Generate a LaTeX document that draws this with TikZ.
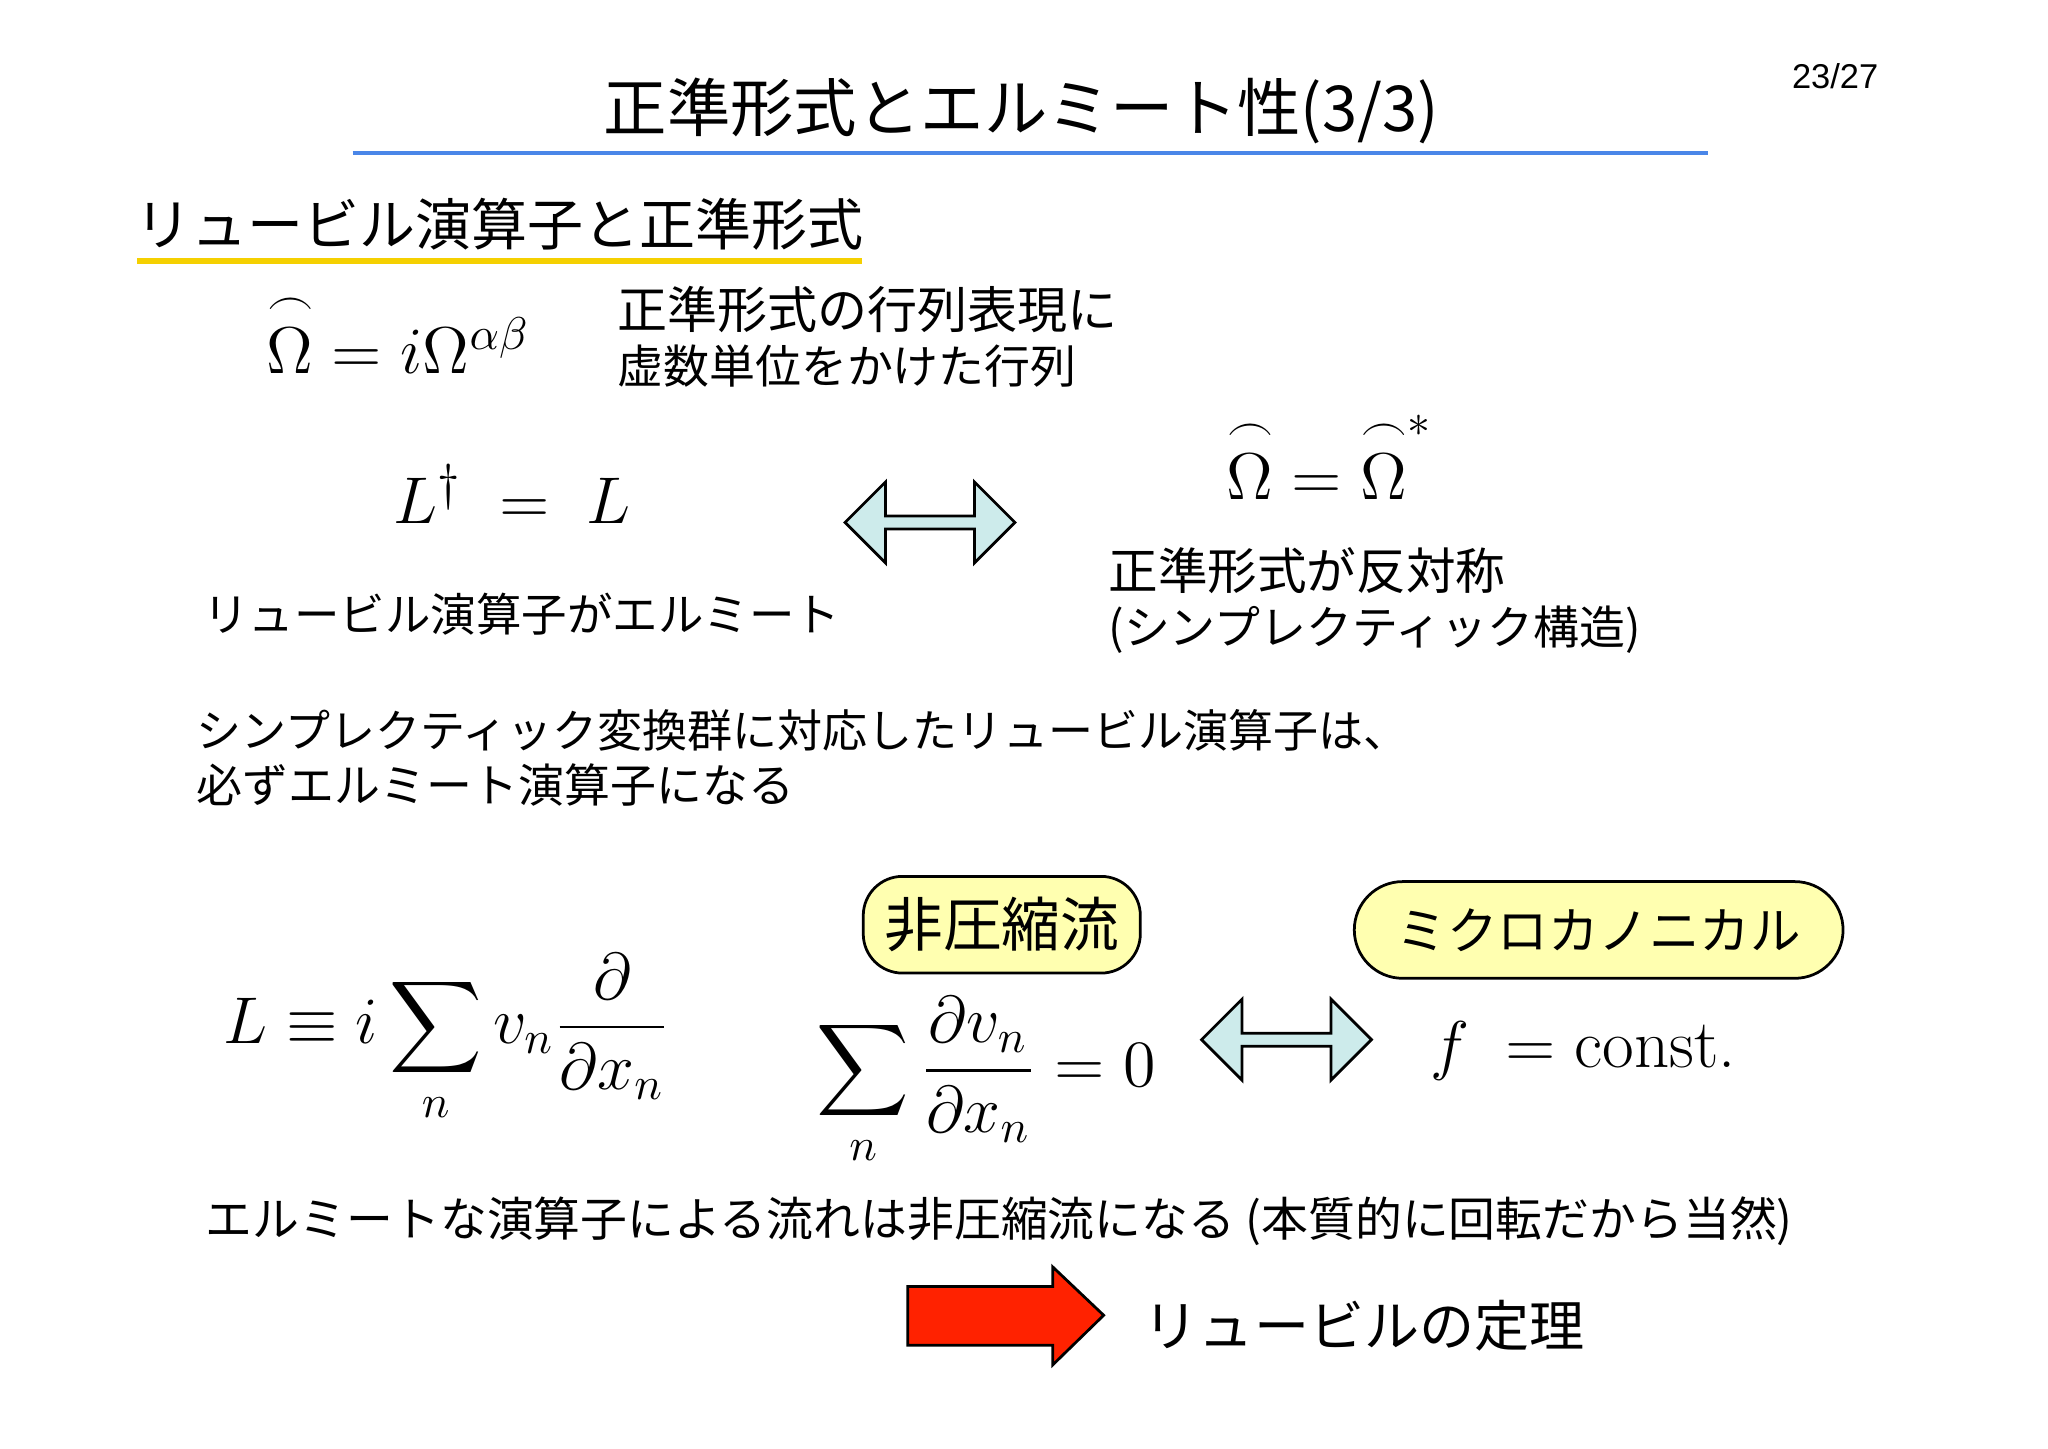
\documentclass[tikz,border=0pt]{standalone}
\usepackage{amsmath,amssymb}
\usepackage{fontspec}
\setmainfont{Noto Sans CJK JP}
\newfontfamily\lmr{Latin Modern Roman}
\usetikzlibrary{shapes.arrows}
\definecolor{cyanfill}{HTML}{CDEBEB}
\definecolor{boxfill}{HTML}{FFFFB0}
\definecolor{titleblue}{HTML}{4A86E8}
\definecolor{uline}{HTML}{F5D000}
\definecolor{redarrow}{HTML}{FF2200}
\newcommand{\fs}[1]{\fontsize{#1}{#1}\selectfont}
\newcommand{\arcOm}{\overset{\frown}{\Omega}}
\tikzset{
  txt/.style={anchor=west,inner sep=0pt,align=left},
  dbl/.style={double arrow,draw,fill=cyanfill,double arrow head extend=0.55mm,minimum height=1.3cm,minimum width=0.62cm,inner sep=0pt,line width=0.6pt},
  ybox/.style={draw,fill=boxfill,rounded corners=0.3cm,line width=0.6pt}
}
\begin{document}
\begin{tikzpicture}[x=0.01cm,y=-0.01cm]
\useasboundingbox[fill=white] (0,0) rectangle (1568,1109);
\node (pg) at (1405,58) {\fontspec{Liberation Sans}\fs{7.5}23/27};
\node (title) at (782,85) {\fs{13.8}正準形式とエルミート性(3/3)};
\draw[titleblue,line width=1pt] (270,117) -- (1308,117);
\node[txt] (sub) at (103,172) {\fs{12.2}リュービル演算子と正準形式};
\draw[uline,line width=1.2pt] (105,200) -- (660,200);
\node (om1) at (305,255) {\fs{14}$\arcOm = i\Omega^{\alpha\beta}$};
\node[txt] (t1) at (472,258) {\fs{10.9}正準形式の行列表現に\\虚数単位をかけた行列};
\node (lherm) at (392,378) {\fs{15}$L^{\dagger} \;=\; L$};
\node[txt] (t2) at (155,470) {\fs{9.9}リュービル演算子がエルミート};
\node[dbl] (a1) at (712,400) {};
\node (om2) at (1018,350) {\fs{14}$\arcOm = \arcOm^{*}$};
\node[txt] (t3) at (848,460) {\fs{10.8}正準形式が反対称\\(シンプレクティック構造)};
\node[txt] (t4) at (150,580) {\fs{9.8}シンプレクティック変換群に対応したリュービル演算子は、\\必ずエルミート演算子になる};
\node[ybox,minimum width=2.12cm,minimum height=0.74cm] (b1) at (767,708) {\fs{12.8}非圧縮流};
\node[ybox,minimum width=3.74cm,minimum height=0.74cm,rounded corners=0.37cm] (b2) at (1224,712) {\fs{11}ミクロカノニカル};
\node (leq) at (342,795) {\fs{14}$\displaystyle L \equiv i\sum_{n} v_n \frac{\partial}{\partial x_n}$};
\node (div) at (755,828) {\fs{14}$\displaystyle \sum_{n} \frac{\partial v_n}{\partial x_n} = 0$};
\node[dbl] (a2) at (985,796) {};
\node (fc) at (1212,805) {\fs{15}$f\; = \text{\lmr const.}$};
\node[txt] (t5) at (157,935) {\fs{10.2}エルミートな演算子による流れは非圧縮流になる (本質的に回転だから当然)};
\draw[fill=redarrow,line width=0.6pt] (695,985) -- (806,985) -- (806,970) -- (845,1007) -- (806,1045) -- (806,1030) -- (695,1030) -- cycle;
\node[txt] (t6) at (875,1015) {\fs{12}リュービルの定理};
\end{tikzpicture}
\end{document}
